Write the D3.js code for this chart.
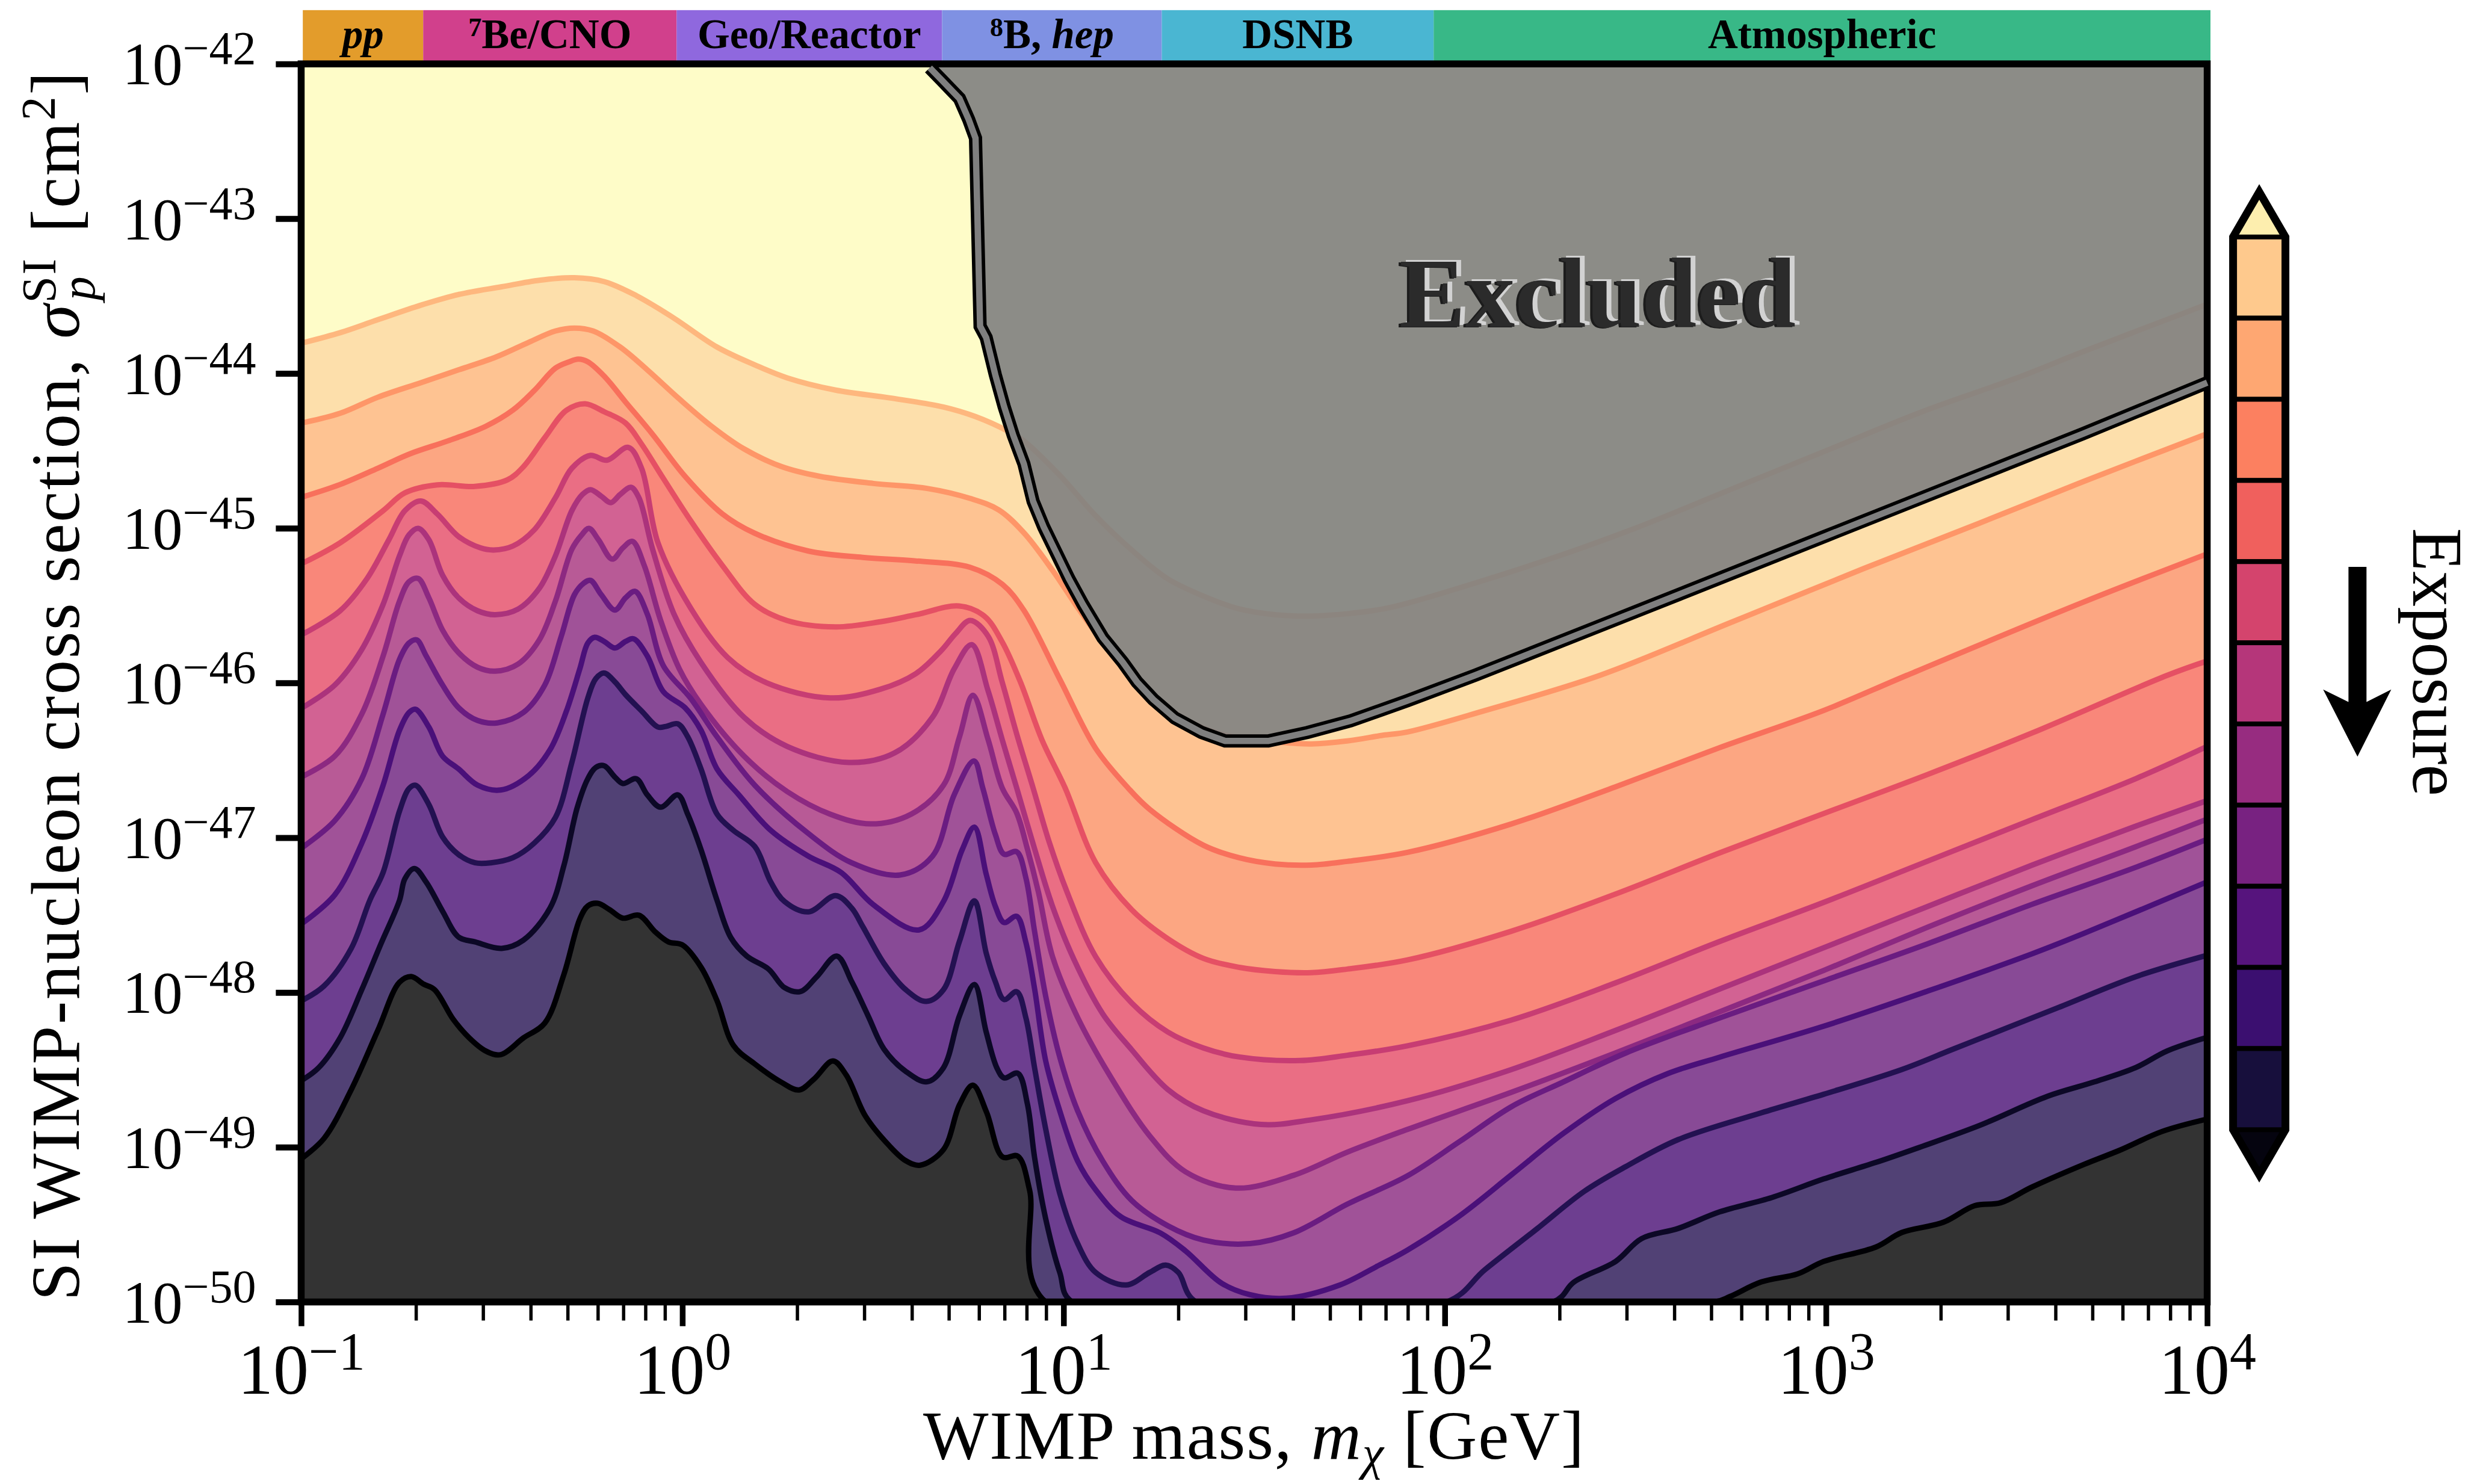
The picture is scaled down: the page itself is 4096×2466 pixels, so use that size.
<!DOCTYPE html>
<html>
<head>
<meta charset="utf-8">
<title>WIMP neutrino fog</title>
<script src="https://cdn.jsdelivr.net/npm/d3@7"></script>
<style>
  html, body { margin: 0; padding: 0; background: #fff; }
  text { font-family: "Liberation Serif", serif; fill: #000; }
</style>
</head>
<body>
<div id="chart"></div>
<script>
// contours, each point is [log10 mass in GeV, log10 cross section in cm2]
const level1 = [[-1, -43.805], [-0.898, -43.737], [-0.799, -43.653], [-0.686, -43.559], [-0.587, -43.49], [-0.474, -43.44], [-0.375, -43.398], [-0.283, -43.382], [-0.205, -43.407], [-0.121, -43.497], [-0.022, -43.643], [0.091, -43.83], [0.19, -43.945], [0.275, -44.029], [0.402, -44.108], [0.543, -44.158], [0.685, -44.217], [0.769, -44.279], [0.854, -44.373], [0.896, -44.437], [0.99, -44.659], [1.084, -44.919], [1.179, -45.142], [1.273, -45.327], [1.367, -45.439], [1.461, -45.522], [1.555, -45.559], [1.65, -45.568], [1.744, -45.553], [1.838, -45.522], [1.902, -45.485], [2.25, -45.22], [2.5, -45.0], [2.75, -44.75], [3.0, -44.5], [3.25, -44.25], [3.5, -44.03], [3.674, -43.86], [4, -43.553]]
const level2 = [[-1, -44.321], [-0.898, -44.258], [-0.799, -44.154], [-0.686, -44.06], [-0.587, -43.977], [-0.488, -43.893], [-0.403, -43.799], [-0.333, -43.726], [-0.283, -43.707], [-0.234, -43.726], [-0.163, -43.83], [-0.092, -43.977], [-0.008, -44.165], [0.077, -44.342], [0.162, -44.488], [0.261, -44.603], [0.36, -44.665], [0.501, -44.711], [0.642, -44.743], [0.755, -44.808], [0.83, -44.882], [0.896, -45.03], [0.971, -45.272], [1.037, -45.513], [1.103, -45.735], [1.179, -45.939], [1.273, -46.162], [1.367, -46.292], [1.461, -46.357], [1.555, -46.381], [1.65, -46.394], [1.744, -46.375], [1.838, -46.338], [1.902, -46.317], [2.106, -46.178], [2.407, -45.951], [2.75, -45.61], [3.1, -45.26], [3.4, -44.97], [3.674, -44.7], [4, -44.39]]
const level3 = [[-1, -44.801], [-0.898, -44.718], [-0.799, -44.613], [-0.714, -44.519], [-0.615, -44.436], [-0.516, -44.342], [-0.445, -44.238], [-0.389, -44.112], [-0.333, -43.966], [-0.297, -43.925], [-0.273, -43.908], [-0.248, -43.925], [-0.205, -44.018], [-0.149, -44.185], [-0.078, -44.394], [0.007, -44.665], [0.105, -44.908], [0.19, -45.033], [0.331, -45.148], [0.473, -45.189], [0.613, -45.212], [0.755, -45.253], [0.84, -45.364], [0.896, -45.531], [0.99, -45.976], [1.084, -46.422], [1.169, -46.678], [1.226, -46.817], [1.367, -47.049], [1.461, -47.13], [1.555, -47.17], [1.65, -47.177], [1.744, -47.153], [1.902, -47.095], [2.175, -46.911], [2.448, -46.671], [2.721, -46.418], [2.994, -46.178], [3.212, -45.951], [3.674, -45.479], [4, -45.166]]
const level4 = [[-1, -45.231], [-0.898, -45.095], [-0.785, -44.887], [-0.728, -44.772], [-0.643, -44.72], [-0.544, -44.73], [-0.459, -44.688], [-0.417, -44.603], [-0.361, -44.415], [-0.304, -44.238], [-0.255, -44.196], [-0.205, -44.248], [-0.149, -44.321], [-0.107, -44.457], [-0.05, -44.678], [0.021, -44.949], [0.105, -45.241], [0.19, -45.492], [0.275, -45.597], [0.402, -45.638], [0.519, -45.605], [0.613, -45.559], [0.726, -45.503], [0.792, -45.568], [0.839, -45.735], [0.887, -45.995], [0.943, -46.366], [1.004, -46.678], [1.084, -47.16], [1.179, -47.466], [1.273, -47.652], [1.367, -47.78], [1.461, -47.838], [1.555, -47.865], [1.65, -47.872], [1.744, -47.849], [1.902, -47.79], [2.175, -47.604], [2.448, -47.364], [2.721, -47.098], [2.994, -46.844], [3.267, -46.591], [3.54, -46.324], [3.895, -45.951], [4, -45.858]]
const level5 = [[-1, -45.69], [-0.898, -45.534], [-0.827, -45.325], [-0.77, -45.075], [-0.728, -44.887], [-0.686, -44.824], [-0.643, -44.908], [-0.587, -45.054], [-0.53, -45.127], [-0.495, -45.141], [-0.445, -45.116], [-0.389, -45.012], [-0.333, -44.803], [-0.29, -44.613], [-0.241, -44.53], [-0.198, -44.561], [-0.142, -44.478], [-0.107, -44.613], [-0.064, -45.095], [0.021, -45.513], [0.119, -45.836], [0.22, -45.998], [0.388, -46.097], [0.519, -46.041], [0.613, -45.939], [0.679, -45.791], [0.717, -45.68], [0.755, -45.596], [0.802, -45.698], [0.839, -45.995], [0.877, -46.329], [0.92, -46.678], [0.962, -47.026], [1.009, -47.35], [1.084, -47.768], [1.179, -48.069], [1.273, -48.255], [1.367, -48.359], [1.461, -48.417], [1.621, -48.44], [1.744, -48.406], [1.902, -48.345], [2.175, -48.178], [2.448, -47.938], [2.721, -47.671], [2.994, -47.418], [3.267, -47.151], [3.54, -46.884], [3.813, -46.618], [4, -46.41]]
const level6 = [[-1, -46.164], [-0.912, -46.014], [-0.841, -45.784], [-0.785, -45.492], [-0.742, -45.179], [-0.717, -45.043], [-0.693, -45.001], [-0.665, -45.075], [-0.629, -45.304], [-0.587, -45.45], [-0.537, -45.534], [-0.491, -45.559], [-0.431, -45.523], [-0.375, -45.388], [-0.333, -45.179], [-0.29, -44.887], [-0.262, -44.782], [-0.241, -44.751], [-0.213, -44.793], [-0.188, -44.835], [-0.163, -44.782], [-0.135, -44.736], [-0.114, -44.803], [-0.078, -45.137], [-0.022, -45.555], [0.049, -45.868], [0.162, -46.222], [0.275, -46.41], [0.437, -46.514], [0.557, -46.452], [0.656, -46.222], [0.713, -45.909], [0.759, -45.753], [0.802, -46.051], [0.839, -46.366], [0.877, -46.678], [0.924, -47.072], [0.971, -47.443], [1.028, -47.791], [1.103, -48.139], [1.179, -48.371], [1.273, -48.626], [1.367, -48.765], [1.518, -48.853], [1.65, -48.823], [1.902, -48.7], [2.175, -48.498], [2.448, -48.245], [2.721, -47.978], [2.994, -47.711], [3.267, -47.444], [3.54, -47.178], [3.813, -46.925], [4, -46.76]]
const level7 = [[-1, -46.608], [-0.912, -46.473], [-0.841, -46.201], [-0.785, -45.826], [-0.742, -45.471], [-0.717, -45.346], [-0.693, -45.325], [-0.665, -45.45], [-0.629, -45.659], [-0.587, -45.805], [-0.537, -45.899], [-0.491, -45.924], [-0.431, -45.878], [-0.375, -45.721], [-0.333, -45.471], [-0.29, -45.137], [-0.264, -45.043], [-0.245, -45.001], [-0.22, -45.075], [-0.184, -45.2], [-0.156, -45.127], [-0.131, -45.085], [-0.1, -45.241], [-0.057, -45.596], [-0.008, -45.909], [0.049, -46.139], [0.162, -46.473], [0.275, -46.702], [0.388, -46.848], [0.494, -46.911], [0.6, -46.848], [0.685, -46.661], [0.727, -46.348], [0.762, -46.08], [0.802, -46.366], [0.839, -46.678], [0.877, -46.84], [0.905, -47.072], [0.934, -47.351], [0.971, -47.768], [1.037, -48.162], [1.132, -48.58], [1.226, -48.927], [1.32, -49.159], [1.452, -49.264], [1.603, -49.182], [1.744, -49.032], [1.902, -48.885], [2.175, -48.645], [2.448, -48.391], [2.721, -48.125], [2.994, -47.858], [3.267, -47.578], [3.54, -47.311], [3.813, -47.058], [4, -46.88]]
const level8 = [[-1, -47.068], [-0.912, -46.89], [-0.841, -46.619], [-0.785, -46.201], [-0.742, -45.847], [-0.717, -45.742], [-0.697, -45.722], [-0.672, -45.826], [-0.629, -46.014], [-0.587, -46.16], [-0.537, -46.243], [-0.485, -46.258], [-0.417, -46.191], [-0.361, -46.014], [-0.318, -45.701], [-0.283, -45.429], [-0.259, -45.356], [-0.241, -45.337], [-0.213, -45.429], [-0.177, -45.529], [-0.149, -45.45], [-0.124, -45.408], [-0.092, -45.555], [-0.05, -45.888], [0.021, -46.097], [0.091, -46.348], [0.19, -46.661], [0.331, -46.974], [0.444, -47.162], [0.571, -47.241], [0.656, -47.12], [0.713, -46.723], [0.765, -46.504], [0.788, -46.678], [0.821, -46.979], [0.844, -47.107], [0.877, -47.091], [0.901, -47.258], [0.924, -47.606], [0.953, -48.023], [0.99, -48.417], [1.037, -48.765], [1.103, -49.09], [1.179, -49.345], [1.273, -49.507], [1.367, -49.6], [1.489, -49.623], [1.603, -49.554], [1.744, -49.368], [1.902, -49.185], [2.038, -48.965], [2.175, -48.738], [2.311, -48.578], [2.475, -48.391], [2.721, -48.165], [2.994, -47.925], [3.267, -47.685], [3.54, -47.431], [3.813, -47.191], [4, -47.01]]
const level9 = [[-1, -47.558], [-0.912, -47.37], [-0.841, -47.036], [-0.785, -46.661], [-0.742, -46.306], [-0.717, -46.191], [-0.7, -46.17], [-0.665, -46.285], [-0.629, -46.473], [-0.587, -46.556], [-0.537, -46.661], [-0.477, -46.692], [-0.403, -46.598], [-0.347, -46.431], [-0.304, -46.181], [-0.269, -45.909], [-0.248, -45.742], [-0.23, -45.705], [-0.205, -45.732], [-0.177, -45.774], [-0.149, -45.732], [-0.128, -45.715], [-0.092, -45.826], [-0.05, -46.056], [0.007, -46.16], [0.049, -46.306], [0.091, -46.556], [0.148, -46.723], [0.232, -46.953], [0.331, -47.12], [0.416, -47.224], [0.501, -47.433], [0.621, -47.596], [0.685, -47.412], [0.734, -47.078], [0.766, -46.932], [0.797, -47.235], [0.821, -47.443], [0.844, -47.548], [0.877, -47.508], [0.901, -47.675], [0.924, -47.977], [0.953, -48.441], [0.99, -48.765], [1.037, -49.09], [1.084, -49.275], [1.15, -49.449], [1.254, -49.554], [1.32, -49.67], [1.414, -49.878], [1.489, -49.953], [1.584, -49.976], [1.725, -49.89], [1.819, -49.774], [1.902, -49.665], [2.038, -49.445], [2.175, -49.178], [2.311, -48.911], [2.448, -48.685], [2.584, -48.525], [2.721, -48.418], [2.994, -48.218], [3.267, -47.991], [3.54, -47.751], [3.677, -47.618], [4, -47.285]]
const level10 = [[-1, -48.054], [-0.94, -47.958], [-0.869, -47.717], [-0.82, -47.405], [-0.785, -47.224], [-0.742, -46.828], [-0.717, -46.682], [-0.7, -46.661], [-0.665, -46.786], [-0.629, -46.995], [-0.587, -47.109], [-0.544, -47.162], [-0.502, -47.162], [-0.445, -47.13], [-0.389, -47.036], [-0.333, -46.869], [-0.29, -46.515], [-0.248, -46.097], [-0.227, -45.972], [-0.205, -45.936], [-0.177, -45.993], [-0.149, -46.076], [-0.107, -46.181], [-0.064, -46.285], [-0.043, -46.281], [-0.012, -46.264], [0.014, -46.348], [0.049, -46.556], [0.091, -46.848], [0.134, -46.953], [0.19, -47.057], [0.232, -47.287], [0.268, -47.412], [0.331, -47.479], [0.402, -47.374], [0.444, -47.454], [0.473, -47.573], [0.529, -47.813], [0.586, -47.982], [0.64, -48.058], [0.685, -47.982], [0.727, -47.669], [0.766, -47.408], [0.797, -47.745], [0.821, -47.93], [0.844, -48.046], [0.877, -47.995], [0.901, -48.162], [0.924, -48.487], [0.953, -48.881], [0.99, -49.298], [1.037, -49.623], [1.084, -49.809], [1.164, -49.89], [1.226, -49.809], [1.268, -49.762], [1.301, -49.809], [1.348, -50], [2.004, -50], [2.106, -49.79], [2.243, -49.525], [2.366, -49.285], [2.475, -49.125], [2.612, -48.951], [2.83, -48.778], [2.994, -48.658], [3.199, -48.498], [3.335, -48.365], [3.609, -48.098], [3.813, -47.898], [4, -47.76]]
const level11 = [[-1, -48.57], [-0.954, -48.486], [-0.898, -48.294], [-0.841, -47.982], [-0.792, -47.693], [-0.742, -47.405], [-0.728, -47.266], [-0.703, -47.199], [-0.672, -47.287], [-0.629, -47.475], [-0.587, -47.642], [-0.544, -47.673], [-0.474, -47.715], [-0.417, -47.662], [-0.347, -47.454], [-0.311, -47.182], [-0.276, -46.807], [-0.248, -46.619], [-0.227, -46.546], [-0.205, -46.535], [-0.177, -46.608], [-0.156, -46.65], [-0.121, -46.619], [-0.092, -46.723], [-0.057, -46.803], [-0.012, -46.723], [0.014, -46.848], [0.049, -47.078], [0.091, -47.405], [0.127, -47.645], [0.169, -47.765], [0.226, -47.849], [0.268, -47.969], [0.31, -47.994], [0.353, -47.897], [0.405, -47.765], [0.445, -47.934], [0.487, -48.15], [0.529, -48.366], [0.586, -48.51], [0.642, -48.577], [0.685, -48.486], [0.727, -48.15], [0.766, -47.949], [0.797, -48.255], [0.825, -48.487], [0.844, -48.552], [0.88, -48.522], [0.905, -48.719], [0.924, -49.067], [0.953, -49.461], [0.99, -49.809], [1.023, -50], [2.284, -50], [2.339, -49.871], [2.448, -49.738], [2.516, -49.591], [2.612, -49.525], [2.721, -49.418], [2.858, -49.325], [2.994, -49.205], [3.131, -49.098], [3.24, -49.005], [3.404, -48.858], [3.581, -48.671], [3.704, -48.578], [3.813, -48.485], [3.895, -48.378], [4, -48.29]]
const level12 = [[-1, -49.075], [-0.94, -48.943], [-0.869, -48.63], [-0.799, -48.246], [-0.742, -47.934], [-0.711, -47.897], [-0.679, -47.946], [-0.65, -47.982], [-0.601, -48.174], [-0.559, -48.294], [-0.516, -48.378], [-0.477, -48.402], [-0.417, -48.294], [-0.361, -48.198], [-0.311, -47.885], [-0.269, -47.525], [-0.248, -47.441], [-0.222, -47.424], [-0.191, -47.465], [-0.156, -47.52], [-0.114, -47.501], [-0.071, -47.609], [-0.036, -47.674], [0, -47.693], [0.049, -47.837], [0.091, -48.054], [0.134, -48.342], [0.19, -48.462], [0.261, -48.582], [0.306, -48.63], [0.346, -48.558], [0.395, -48.443], [0.43, -48.534], [0.48, -48.798], [0.543, -48.991], [0.586, -49.087], [0.624, -49.116], [0.685, -49.015], [0.727, -48.726], [0.762, -48.599], [0.798, -48.774], [0.84, -49.063], [0.88, -49.058], [0.911, -49.279], [0.953, -50], [2.707, -50], [2.748, -49.965], [2.83, -49.871], [2.926, -49.818], [2.994, -49.738], [3.131, -49.645], [3.199, -49.551], [3.308, -49.485], [3.39, -49.378], [3.458, -49.359], [3.54, -49.258], [3.677, -49.111], [3.772, -49.018], [3.882, -48.898], [4, -48.818]]
const excludedEdge = [[0.649, -42.025], [0.682, -42.109], [0.727, -42.224], [0.751, -42.359], [0.769, -42.48], [0.781, -43.695], [0.797, -43.769], [0.821, -44.01], [0.844, -44.214], [0.868, -44.4], [0.896, -44.585], [0.92, -44.826], [0.948, -44.993], [0.981, -45.16], [1.014, -45.327], [1.051, -45.494], [1.103, -45.708], [1.155, -45.865], [1.193, -45.995], [1.235, -46.106], [1.292, -46.227], [1.362, -46.32], [1.424, -46.375], [1.537, -46.375], [1.64, -46.32], [1.753, -46.245], [1.902, -46.115], [2.079, -45.951], [2.5, -45.54], [3, -45.05], [3.674, -44.39], [4, -44.06]]
const levels = [level1, level2, level3, level4, level5, level6, level7, level8, level9, level10, level11, level12]

const bandColors = ['#fddfab', '#fec392', '#fca682', '#f9877a', '#ea6e84', '#d26293', '#b85a96', '#a05298', '#884a96', '#6d3e90', '#514175', '#333333']
const lineColors = ['#feb77e', '#fe9668', '#f8705c', '#e55064', '#c73d73', '#ab337c', '#8c2981', '#6a1c81', '#4a1079', '#231151', '#0c0826', '#000004']
const noLimitColor = '#fefcc8'

const colorbarColors = ['#fec98d', '#fea772', '#fc8060', '#f0605d', '#d4446d', '#b5367a', '#972c80', '#782281', '#56147d', '#3b0f70', '#170f3c']
const colorbarTop = '#fdeeae'
const colorbarBottom = '#05040f'

const headerEdges = [0.101, 0.209, 0.966, 4.8, 18.1, 93.5, 10200]
const headerColors = ['#e39c2b', '#d1408c', '#8f68de', '#7f91e3', '#4ab6d2', '#38b887']
const headerLabels = [
  '<tspan font-style="italic">pp</tspan>',
  '<tspan font-size="44" dy="-20">7</tspan><tspan dy="20">Be/CNO</tspan>',
  'Geo/Reactor',
  '<tspan font-size="44" dy="-20">8</tspan><tspan dy="20">B, </tspan><tspan font-style="italic">hep</tspan>',
  'DSNB',
  'Atmospheric'
]

const massTicks = [0.1, 1, 10, 100, 1000, 10000]
const massExponents = ['−1', '0', '1', '2', '3', '4']
const sigmaTicks = [1e-42, 1e-43, 1e-44, 1e-45, 1e-46, 1e-47, 1e-48, 1e-49, 1e-50]
const sigmaExponents = ['−42', '−43', '−44', '−45', '−46', '−47', '−48', '−49', '−50']

// reference pixels to window pixels
const k = 4096 / 4379
const width = 4096
const height = 2466
const plot = { left: 535 * k, right: 3921 * k, top: 113.5 * k, bottom: 2313 * k }

const svg = d3.select('#chart')
  .append('svg')
  .attr('width', width)
  .attr('height', height)
  .style('display', 'block')

const xScale = d3.scaleLog().domain([0.1, 10000]).range([plot.left, plot.right])
const yScale = d3.scaleLog().domain([1e-50, 1e-42]).range([plot.bottom, plot.top])

const px = d => xScale(Math.pow(10, d[0]))
const py = d => yScale(Math.pow(10, d[1]))

svg.append('clipPath').attr('id', 'plot-clip')
  .append('rect')
  .attr('x', plot.left)
  .attr('y', plot.top)
  .attr('width', plot.right - plot.left)
  .attr('height', plot.bottom - plot.top)

const inner = svg.append('g').attr('clip-path', 'url(#plot-clip)')

inner.append('rect')
  .attr('x', plot.left)
  .attr('y', plot.top)
  .attr('width', plot.right - plot.left)
  .attr('height', plot.bottom - plot.top)
  .attr('fill', noLimitColor)

const smooth = d3.curveCatmullRom.alpha(0.5)
const band = d3.area().x(px).y0(plot.bottom + 40).y1(py).curve(smooth)
const contour = d3.line().x(px).y(py).curve(smooth)

levels.forEach((level, i) => {
  inner.append('path')
    .datum(level)
    .attr('fill', bandColors[i])
    .attr('d', band)
})

levels.forEach((level, i) => {
  inner.append('path')
    .datum(level)
    .attr('fill', 'none')
    .attr('stroke', lineColors[i])
    .attr('stroke-width', 9)
    .attr('d', contour)
})

// excluded region
const edge = d3.line().x(px).y(py)
const corner = [[4, -42], [0.649, -42]]

inner.append('path')
  .datum(excludedEdge.concat(corner))
  .attr('fill', '#808080')
  .attr('fill-opacity', 0.9)
  .attr('d', edge)

const excludedLabel = { x: 2486 * k, y: 580 * k }
const excludedStyles = [
  { dx: 8, dy: -3, fill: '#d2d2d2' },
  { dx: -4, dy: 1, fill: '#1c1c1c' },
  { dx: 0, dy: 0, fill: '#2b2b2b' }
]
excludedStyles.forEach(s => {
  svg.append('text')
    .attr('x', excludedLabel.x + s.dx)
    .attr('y', excludedLabel.y + s.dy)
    .attr('font-size', 176 * k)
    .attr('font-weight', 'bold')
    .style('fill', s.fill)
    .text('Excluded')
})

// header strip with the neutrino sources
headerColors.forEach((color, i) => {
  const x0 = xScale(headerEdges[i])
  const x1 = xScale(headerEdges[i + 1])
  svg.append('rect')
    .attr('x', x0)
    .attr('y', 18 * k)
    .attr('width', x1 - x0)
    .attr('height', 91 * k)
    .attr('fill', color)
  svg.append('text')
    .attr('x', (x0 + x1) / 2)
    .attr('y', 86 * k)
    .attr('text-anchor', 'middle')
    .attr('font-size', 69)
    .attr('font-weight', 'bold')
    .html(headerLabels[i])
})

// axes
const minorTicks = xScale.ticks().filter(t => !massTicks.some(m => Math.abs(t / m - 1) < 1e-6))

const xMinor = svg.append('g')
  .attr('transform', `translate(0,${plot.bottom})`)
  .call(d3.axisBottom(xScale).tickValues(minorTicks).tickSize(33 * k).tickFormat(''))
xMinor.select('.domain').remove()
xMinor.selectAll('.tick line').attr('stroke-width', 5.5)

const xMajor = svg.append('g')
  .attr('transform', `translate(0,${plot.bottom})`)
  .call(d3.axisBottom(xScale).tickValues(massTicks).tickSize(43 * k).tickFormat(''))
xMajor.select('.domain').remove()
xMajor.selectAll('.tick line').attr('stroke-width', 9.5)
xMajor.selectAll('.tick text')
  .attr('y', 163 * k)
  .attr('dy', 0)
  .attr('font-size', 118)
  .attr('text-anchor', 'middle')
  .html((d, i) => `10<tspan font-size="88" dy="-41">${massExponents[i]}</tspan>`)

const yMajor = svg.append('g')
  .attr('transform', `translate(${plot.left},0)`)
  .call(d3.axisLeft(yScale).tickValues(sigmaTicks).tickSize(45 * k).tickFormat(''))
yMajor.select('.domain').remove()
yMajor.selectAll('.tick line').attr('stroke-width', 10)
yMajor.selectAll('.tick text')
  .attr('x', -80 * k)
  .attr('dy', 0)
  .attr('y', 36 * k)
  .attr('font-size', 100)
  .attr('text-anchor', 'end')
  .html((d, i) => `10<tspan font-size="78" dy="-34">${sigmaExponents[i]}</tspan>`)

svg.append('rect')
  .attr('x', plot.left)
  .attr('y', plot.top)
  .attr('width', plot.right - plot.left)
  .attr('height', plot.bottom - plot.top)
  .attr('fill', 'none')
  .attr('stroke', '#000')
  .attr('stroke-width', 11.5)

// excluded edge sits above the frame, black with a grey core
svg.append('path')
  .datum(excludedEdge)
  .attr('fill', 'none')
  .attr('stroke', '#000')
  .attr('stroke-width', 22)
  .attr('d', edge)
svg.append('path')
  .datum(excludedEdge)
  .attr('fill', 'none')
  .attr('stroke', '#7f7f7f')
  .attr('stroke-width', 10.5)
  .attr('d', edge)

// titles
svg.append('text')
  .attr('x', (plot.left + plot.right) / 2)
  .attr('y', 2591 * k)
  .attr('text-anchor', 'middle')
  .attr('font-size', 115)
  .style('letter-spacing', '1.8px')
  .html('WIMP mass, <tspan font-style="italic">m</tspan><tspan font-style="italic" font-size="80" dy="18">χ</tspan><tspan dy="-18"> [GeV]</tspan>')

svg.append('text')
  .attr('transform', `translate(${140 * k},${1218 * k}) rotate(-90)`)
  .attr('text-anchor', 'middle')
  .attr('font-size', 115)
  .style('letter-spacing', '2.5px')
  .html('SI WIMP-nucleon cross section, <tspan font-style="italic">σ</tspan><tspan font-size="80" dy="-39">SI</tspan><tspan font-style="italic" font-size="80" dx="-72" dy="65">p</tspan><tspan dx="39" dy="-26"> [cm</tspan><tspan font-size="80" dy="-40">2</tspan><tspan dy="40">]</tspan>')

// colorbar
const barTop = 421 * k
const barBottom = 2007 * k
const barLeft = 3967 * k
const barRight = 4060 * k
const barMid = (barLeft + barRight) / 2
const tipHeight = 80 * k
const barScale = d3.scaleLinear().domain([0, colorbarColors.length]).range([barTop, barBottom])

svg.append('path')
  .attr('d', d3.line()([[barLeft, barTop], [barMid, barTop - tipHeight], [barRight, barTop]]))
  .attr('fill', colorbarTop)
svg.append('path')
  .attr('d', d3.line()([[barLeft, barBottom], [barMid, barBottom + tipHeight], [barRight, barBottom]]))
  .attr('fill', colorbarBottom)

svg.append('g')
  .selectAll('rect')
  .data(colorbarColors)
  .join('rect')
  .attr('x', barLeft)
  .attr('y', (d, i) => barScale(i))
  .attr('width', barRight - barLeft)
  .attr('height', (d, i) => barScale(i + 1) - barScale(i))
  .attr('fill', d => d)
  .attr('stroke', '#000')
  .attr('stroke-width', 8)

svg.append('path')
  .attr('d', d3.line()([
    [barLeft, barTop], [barMid, barTop - tipHeight], [barRight, barTop],
    [barRight, barBottom], [barMid, barBottom + tipHeight], [barLeft, barBottom]
  ]) + 'Z')
  .attr('fill', 'none')
  .attr('stroke', '#000')
  .attr('stroke-width', 13)

// exposure arrow and label
const arrow = [[4172, 1007], [4204, 1007], [4204, 1247], [4248, 1225], [4188, 1344], [4127, 1225], [4172, 1247]]
svg.append('path')
  .attr('d', d3.line().x(d => d[0] * k).y(d => d[1] * k)(arrow) + 'Z')
  .attr('fill', '#000')

svg.append('text')
  .attr('transform', `translate(${4287 * k},${1176 * k}) rotate(90)`)
  .attr('text-anchor', 'middle')
  .attr('font-size', 118)
  .text('Exposure')
</script>
</body>
</html>
